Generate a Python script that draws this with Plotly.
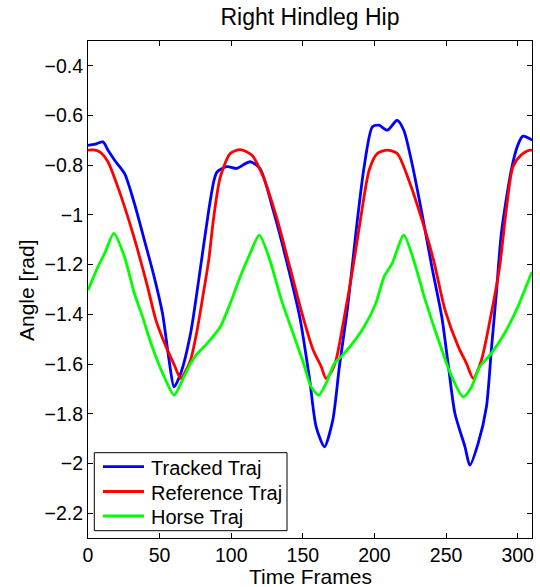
import plotly.graph_objects as go

# ---- data ----
tracked_x = [0, 5, 10.5, 14, 18.6, 25.5, 32.4, 39.3, 46.2, 52, 56.6, 60.1, 64.7, 71.6, 78.6, 84.3, 88,
             90.1, 97, 103.9, 108, 113.2, 120.1, 129.3, 138.5, 147.8, 154.7, 159.3, 165.1, 170.9, 175.5,
             181.3, 187, 192.8, 198.6, 203.2, 209, 215.9, 220.5, 226.3, 233.2, 240.1, 247, 251.7, 256.2,
             263.2, 266.6, 272.4, 278.2, 281.6, 285.1, 288.6, 295.5, 300.1, 303.6, 309.3, 310]
tracked_y = [-0.72, -0.715, -0.706, -0.74, -0.78, -0.833, -0.954, -1.10, -1.249, -1.396, -1.584, -1.692,
             -1.638, -1.477, -1.209, -0.981, -0.86, -0.827, -0.806, -0.813, -0.80, -0.786, -0.813, -0.981,
             -1.182, -1.41, -1.66, -1.853, -1.933, -1.826, -1.611, -1.37, -1.074, -0.806, -0.645, -0.639,
             -0.659, -0.619, -0.659, -0.795, -0.995, -1.209, -1.41, -1.611, -1.799, -1.933, -2.007, -1.919,
             -1.772, -1.544, -1.316, -1.074, -0.82, -0.719, -0.683, -0.696, -0.70]

reference_x = [0, 4, 8.2, 13.9, 20.8, 27.8, 34.7, 41.6, 47.4, 55.5, 60, 64.7, 68, 71.6, 76, 80.9, 84.3,
               87.8, 92.4, 99.3, 106.3, 114.3, 122.4, 131.6, 140.9, 150.1, 157, 162.8, 166.2, 170, 173.2,
               179, 184.7, 190.5, 196.3, 202, 209, 215.9, 224, 233.2, 241.3, 249.3, 258.6, 264.3, 269,
               274.7, 281.6, 287.4, 292, 296.7, 302.4, 308.2, 310]
reference_y = [-0.739, -0.738, -0.746, -0.786, -0.887, -1.008, -1.142, -1.289, -1.423, -1.544, -1.6,
               -1.658, -1.63, -1.584, -1.47, -1.303, -1.182, -1.008, -0.847, -0.753, -0.737, -0.759,
               -0.847, -1.008, -1.209, -1.41, -1.54, -1.61, -1.658, -1.63, -1.584, -1.41, -1.222,
               -1.008, -0.82, -0.753, -0.739, -0.753, -0.86, -1.02, -1.182, -1.383, -1.531, -1.598,
               -1.658, -1.584, -1.396, -1.209, -0.981, -0.806, -0.759, -0.739, -0.74]

horse_x = [0, 5.9, 11.6, 18.1, 25.5, 32.4, 38.1, 44, 53.2, 60.1, 67, 71.6, 76, 83.2, 92.4, 99.3, 106.3,
           113.2, 119.6, 127, 135.1, 143.2, 150.1, 155.8, 161.2, 166.2, 172, 177.8, 184.7, 192.8, 200.9,
           206.7, 212.4, 220.5, 227.4, 235.5, 244.7, 254, 262, 267.8, 273.5, 281.6, 290.8, 300.1, 308.6, 310]
horse_y = [-1.303, -1.222, -1.155, -1.074, -1.169, -1.316, -1.41, -1.517, -1.651, -1.725, -1.651, -1.598,
           -1.56, -1.517, -1.45, -1.356, -1.249, -1.155, -1.081, -1.182, -1.343, -1.477, -1.59, -1.692,
           -1.725, -1.678, -1.598, -1.564, -1.517, -1.45, -1.356, -1.249, -1.195, -1.081, -1.182, -1.343,
           -1.504, -1.651, -1.732, -1.692, -1.611, -1.557, -1.477, -1.37, -1.249, -1.23]

series_names = ["Tracked Traj", "Reference Traj", "Horse Traj"]
series_colors = ["#0000FF", "#FF0000", "#00FF00"]

FONT = "Liberation Sans, Arial, Helvetica, sans-serif"

W, H = 540, 587
L, R, T, B = 88, 532, 41, 538          # plot area edges in pixels
PW, PH = R - L, B - T


def px_x(p):
    return (p - L) / PW


def px_y(p):
    return (B - p) / PH


fig = go.Figure()
for xs, ys, name, col in zip([tracked_x, reference_x, horse_x],
                             [tracked_y, reference_y, horse_y],
                             series_names, series_colors):
    fig.add_trace(go.Scatter(x=xs, y=ys, mode="lines", name=name, showlegend=False,
                             line=dict(color=col, width=2.8, shape="spline", smoothing=0.7)))

axis_common = dict(showgrid=False, zeroline=False, showline=True, linecolor="black", linewidth=1,
                   mirror="ticks", ticks="inside", ticklen=5, tickcolor="black", tickwidth=1,
                   automargin=False,
                   tickfont=dict(family=FONT, size=19.5, color="black"))

# ---- legend drawn as box, line samples and labels ----
shapes = [dict(type="rect", xref="paper", yref="paper",
               x0=px_x(94.3), x1=px_x(287), y0=px_y(530.7), y1=px_y(452.7),
               line=dict(color="black", width=1), fillcolor="white", layer="above")]
annotations = []
row_y = [466.7, 491.5, 516]
for name, col, ry in zip(series_names, series_colors, row_y):
    shapes.append(dict(type="line", xref="paper", yref="paper",
                       x0=px_x(103), x1=px_x(144), y0=px_y(ry), y1=px_y(ry),
                       line=dict(color=col, width=2.8), layer="above"))
    annotations.append(dict(text=name, xref="paper", yref="paper", x=px_x(148.5), y=px_y(ry + 1),
                            xanchor="left", yanchor="middle", showarrow=False,
                            font=dict(family=FONT, size=20, color="black")))

# axis titles
annotations.append(dict(text="Time Frames", xref="paper", yref="paper", x=px_x(310), y=px_y(576),
                        xanchor="center", yanchor="middle", showarrow=False,
                        font=dict(family=FONT, size=21, color="black")))
annotations.append(dict(text="Angle [rad]", xref="paper", yref="paper", x=px_x(26), y=px_y(290),
                        xanchor="center", yanchor="middle", showarrow=False, textangle=-90,
                        font=dict(family=FONT, size=21, color="black")))

fig.update_layout(
    width=W, height=H,
    margin=dict(l=L, r=W - R, t=T, b=H - B),
    paper_bgcolor="white", plot_bgcolor="white",
    font=dict(family=FONT, color="black"),
    title=dict(text="Right Hindleg Hip", x=(L + R) / 2 / W, xanchor="center",
               y=1 - 16.5 / H, yanchor="middle", yref="container",
               font=dict(family=FONT, size=23, color="black")),
    xaxis=dict(range=[0, 310], tick0=0, dtick=50, **axis_common),
    yaxis=dict(range=[-2.3, -0.3], tick0=0, dtick=0.2, **axis_common),
    shapes=shapes,
    annotations=annotations,
    showlegend=False,
)

fig.write_html("out.html",
               config={"displayModeBar": False, "staticPlot": True},
               post_script="document.body.style.margin='0';document.body.style.overflow='hidden';")
